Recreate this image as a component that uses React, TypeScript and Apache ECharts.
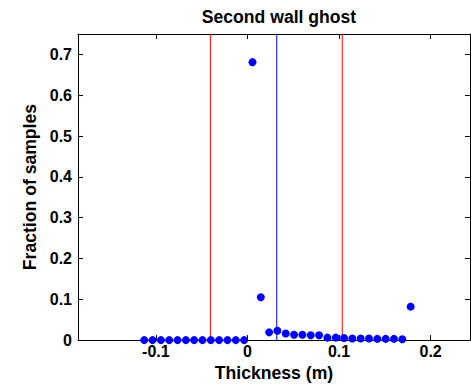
import React, { useEffect, useRef } from "react";
import * as echarts from "echarts";

const thickness = [
  -0.1127, -0.1036, -0.0945, -0.0854, -0.0763, -0.0672, -0.0582, -0.0491, -0.04,
  -0.0309, -0.0218, -0.0127, -0.0036, 0.0055, 0.0146, 0.0237, 0.0327, 0.0418,
  0.0509, 0.06, 0.0691, 0.0782, 0.0873, 0.0964, 0.1055, 0.1145, 0.1236, 0.1327,
  0.1418, 0.1509, 0.16, 0.1691, 0.1782,
];
const fraction = [
  0, 0, 0, 0, 0, 0, 0, 0, 0, 0, 0, 0, 0, 0.681, 0.105, 0.019, 0.023, 0.016,
  0.013, 0.013, 0.012, 0.012, 0.006, 0.006, 0.005, 0.004, 0.004, 0.004, 0.003,
  0.003, 0.003, 0.002, 0.082,
];
const meanLine = 0.032;
const boundLines = [-0.0405, 0.1035];
const xTicks = [-0.1, 0, 0.1, 0.2];
const yTicks = [0, 0.1, 0.2, 0.3, 0.4, 0.5, 0.6, 0.7];
const yMax = 0.75;

const FONT = "'Liberation Sans', Arial, sans-serif";

function vline(x: number, color: string) {
  return {
    type: "line",
    xAxisIndex: 0,
    yAxisIndex: 0,
    data: [
      [x, 0],
      [x, yMax],
    ],
    z: 1,
    silent: true,
    symbol: "none",
    showSymbol: false,
    color,
    lineStyle: { color, width: 1, type: "solid", opacity: 1 },
    emphasis: { disabled: true },
  };
}

export default function App() {
  const ref = useRef<HTMLDivElement>(null);
  useEffect(() => {
    if (!ref.current) return;
    const chart = echarts.init(ref.current, null, { renderer: "svg" });
    const axisLine = { show: true, onZero: false, lineStyle: { color: "#000", width: 1 } };
    const tickStyle = { color: "#000", width: 1 };
    const labelStyle = {
      color: "#000",
      fontFamily: FONT,
      fontWeight: "bold" as const,
      fontSize: 16,
    };
    const xCommon = {
      type: "value" as const,
      min: -0.185,
      max: 0.243,
      splitLine: { show: false },
      axisLine,
    };
    const yCommon = {
      type: "value" as const,
      min: 0,
      max: yMax,
      interval: 0.1,
      splitLine: { show: false },
      axisLine,
    };
    chart.setOption({
      animation: false,
      title: {
        text: "Second wall ghost",
        left: 274,
        textAlign: "center",
        top: 3,
        textStyle: {
          color: "#000",
          fontFamily: FONT,
          fontWeight: "bold",
          fontSize: 17.6,
        },
      },
      grid: { left: 78, right: 1, top: 34, bottom: 46 },
      xAxis: [
        {
          ...xCommon,
          position: "bottom",
          name: "Thickness (m)",
          nameLocation: "middle",
          nameGap: 23,
          nameTextStyle: { ...labelStyle, fontSize: 17.6 },
          axisTick: {
            show: true,
            inside: true,
            length: 5,
            lineStyle: tickStyle,
            customValues: xTicks,
          },
          axisLabel: { ...labelStyle, margin: 3, customValues: xTicks },
        },
        {
          ...xCommon,
          position: "top",
          axisTick: {
            show: true,
            inside: true,
            length: 5,
            lineStyle: tickStyle,
            customValues: xTicks,
          },
          axisLabel: { show: false },
        },
      ],
      yAxis: [
        {
          ...yCommon,
          position: "left",
          name: "Fraction of samples",
          nameLocation: "middle",
          nameGap: 35,
          nameTextStyle: { ...labelStyle, fontSize: 17.6 },
          axisTick: {
            show: true,
            inside: true,
            length: 5,
            lineStyle: tickStyle,
            customValues: yTicks,
          },
          axisLabel: { ...labelStyle, margin: 6, customValues: yTicks },
        },
        {
          ...yCommon,
          position: "right",
          axisTick: {
            show: true,
            inside: true,
            length: 5,
            lineStyle: tickStyle,
            customValues: yTicks,
          },
          axisLabel: { show: false },
        },
      ],
      series: [
        vline(boundLines[0], "#ff0000"),
        vline(meanLine, "#0000ff"),
        vline(boundLines[1], "#ff0000"),
        {
          type: "scatter",
          xAxisIndex: 0,
          yAxisIndex: 0,
          z: 3,
          clip: false,
          symbol: "circle",
          symbolSize: 8,
          itemStyle: { color: "#0000ff", opacity: 1 },
          data: thickness.map((x, i) => [x, fraction[i]]),
        },
      ],
    });
    return () => chart.dispose();
  }, []);
  return (
    <div
      ref={ref}
      style={{ position: "absolute", left: 0, top: 0, width: 471, height: 387 }}
    />
  );
}
